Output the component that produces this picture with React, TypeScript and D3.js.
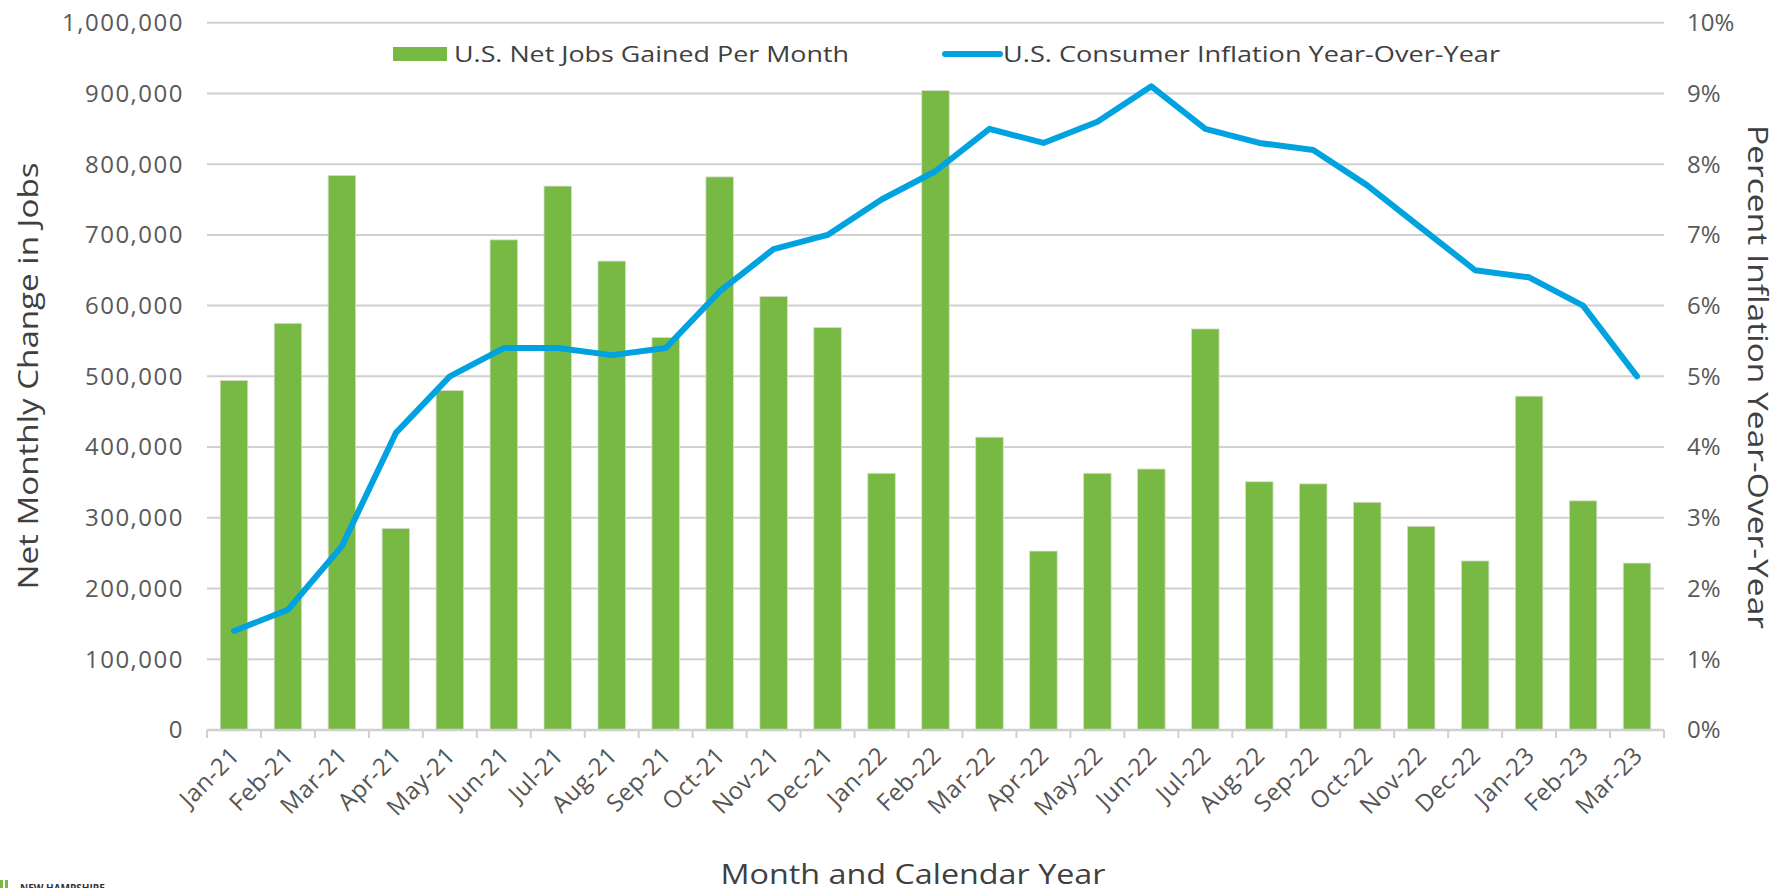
import React from "react";
import * as d3 from "d3";

const months = ["Jan-21","Feb-21","Mar-21","Apr-21","May-21","Jun-21","Jul-21","Aug-21","Sep-21","Oct-21","Nov-21","Dec-21","Jan-22","Feb-22","Mar-22","Apr-22","May-22","Jun-22","Jul-22","Aug-22","Sep-22","Oct-22","Nov-22","Dec-22","Jan-23","Feb-23","Mar-23"];
const jobsGained = [494000,575000,784000,285000,480000,693000,769000,663000,555000,782000,613000,569000,363000,904000,414000,253000,363000,369000,567000,351000,348000,322000,288000,239000,472000,324000,236000];
const inflation = [1.4,1.7,2.6,4.2,5.0,5.4,5.4,5.3,5.4,6.2,6.8,7.0,7.5,7.9,8.5,8.3,8.6,9.1,8.5,8.3,8.2,7.7,7.1,6.5,6.4,6.0,5.0];
const leftTicks = [0,100000,200000,300000,400000,500000,600000,700000,800000,900000,1000000];
const rightTicks = [0,1,2,3,4,5,6,7,8,9,10];

const W = 1787, H = 888;
const L = 207, R = 1664, T = 22.7, B = 730;
const GREEN = "#78b943";
const BLUE = "#00a3e0";
const FONT = "'Open Sans', 'Noto Sans', sans-serif";

export default function App() {
  const x = d3.scaleBand<string>().domain(months).range([L, R]).padding(0);
  const y = d3.scaleLinear().domain([0, 1000000]).range([B, T]);
  const y2 = d3.scaleLinear().domain([0, 10]).range([B, T]);
  const bw = x.bandwidth() * 0.51;
  const fmt = d3.format(",");
  const line = d3.line<number>()
    .x((_, i) => (x(months[i]) as number) + x.bandwidth() / 2)
    .y((d) => y2(d));
  const boundaries = months.map((m) => x(m) as number).concat([R]);

  return (
    <svg width={W} height={H} style={{ position: "fixed", left: 0, top: 0, background: "#fff" }} fontFamily={FONT}>
      <rect x={0} y={0} width={W} height={H} fill="#fff" />
      {leftTicks.slice(1).map((t) => (
        <line key={t} x1={L} x2={R} y1={y(t)} y2={y(t)} stroke="#d0d0d0" strokeWidth={2} />
      ))}
      {/* bars */}
      {jobsGained.map((v, i) => {
        const cx = (x(months[i]) as number) + x.bandwidth() / 2;
        return (
          <rect key={months[i]} x={cx - bw / 2} y={y(v)} width={bw} height={B - y(v)} fill={GREEN} stroke="#d8dcd4" strokeWidth={0.8} />
        );
      })}
      {/* baseline and ticks */}
      <line x1={L} x2={R} y1={B} y2={B} stroke="#d0d0d0" strokeWidth={2.5} />
      {boundaries.map((bx, i) => (
        <line key={i} x1={bx} x2={bx} y1={B} y2={B + 8} stroke="#d0d0d0" strokeWidth={2} />
      ))}
      {/* inflation line */}
      <path d={line(inflation) || ""} fill="none" stroke={BLUE} strokeWidth={6} strokeLinejoin="round" strokeLinecap="round" />
      {/* left tick labels */}
      {leftTicks.map((t) => (
        <text key={t} x={184} y={y(t)} dy="0.35em" textAnchor="end" fontSize={24} fill="#595959" letterSpacing={1.5}>
          {fmt(t)}
        </text>
      ))}
      {/* right tick labels */}
      {rightTicks.map((t) => (
        <text key={t} x={1687} y={y2(t)} dy="0.35em" textAnchor="start" fontSize={24} fill="#595959">
          {t + "%"}
        </text>
      ))}
      {/* x tick labels */}
      {months.map((m) => {
        const cx = (x(m) as number) + x.bandwidth() / 2 + 7;
        const cy = 757;
        return (
          <text key={m} x={cx} y={cy} textAnchor="end" fontSize={24} fill="#555" letterSpacing={0.5} transform={`rotate(-45 ${cx} ${cy})`}>
            {m}
          </text>
        );
      })}
      {/* axis titles */}
      <text x={0} y={0} transform={`translate(38 376) rotate(-90)`} textAnchor="middle" fontSize={27} fill="#404040" textLength={427} lengthAdjust="spacingAndGlyphs">
        Net Monthly Change in Jobs
      </text>
      <text x={0} y={0} transform={`translate(1748 377) rotate(90)`} textAnchor="middle" fontSize={27} fill="#404040" textLength={504} lengthAdjust="spacingAndGlyphs">
        Percent Inflation Year-Over-Year
      </text>
      <text x={913} y={884} textAnchor="middle" fontSize={28} fill="#404040" textLength={385} lengthAdjust="spacingAndGlyphs">
        Month and Calendar Year
      </text>
      {/* legend */}
      <rect x={393} y={47} width={54} height={14} fill={GREEN} />
      <text x={454} y={62} fontSize={21} fill="#404040" textLength={395} lengthAdjust="spacingAndGlyphs">
        U.S. Net Jobs Gained Per Month
      </text>
      <line x1={945} x2={1000} y1={54} y2={54} stroke={BLUE} strokeWidth={6} strokeLinecap="round" />
      <text x={1003} y={62} fontSize={21} fill="#404040" textLength={497} lengthAdjust="spacingAndGlyphs">
        U.S. Consumer Inflation Year-Over-Year
      </text>
      {/* footer logo */}
      <rect x={0} y={880} width={3} height={8} fill={GREEN} />
      <rect x={5} y={880} width={3} height={8} fill={GREEN} />
      <text x={20} y={892} fontSize={10} fontWeight={700} fill="#333">NEW HAMPSHIRE</text>
    </svg>
  );
}
